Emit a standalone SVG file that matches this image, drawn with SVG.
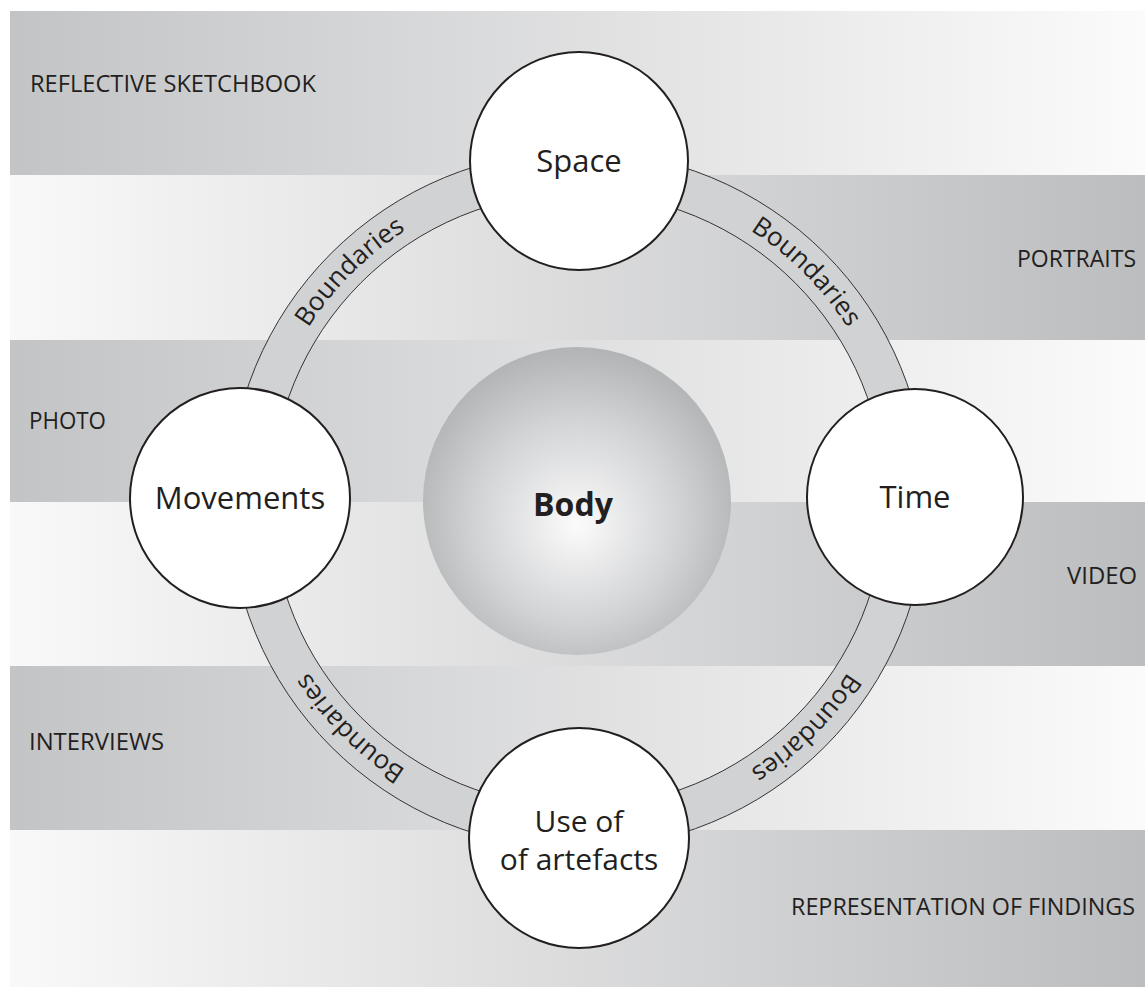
<svg xmlns="http://www.w3.org/2000/svg" xmlns:xlink="http://www.w3.org/1999/xlink" width="1145" height="990" viewBox="0 0 1145 990">
  <defs>
    <!-- band shading: light on the left, dark on the right -->
    <linearGradient id="bandLR" gradientUnits="userSpaceOnUse" x1="10" y1="0" x2="1145" y2="0">
      <stop offset="0" stop-color="#f9f9f9"/>
      <stop offset="1" stop-color="#bcbdbf"/>
    </linearGradient>
    <!-- band shading: dark on the left, light on the right -->
    <linearGradient id="bandRL" gradientUnits="userSpaceOnUse" x1="10" y1="0" x2="1145" y2="0">
      <stop offset="0" stop-color="#c3c4c6"/>
      <stop offset="1" stop-color="#fbfbfb"/>
    </linearGradient>
    <radialGradient id="bodyShade" cx="0.5" cy="0.55" r="0.55" fx="0.5" fy="0.58">
      <stop offset="0" stop-color="#fbfbfb"/>
      <stop offset="0.6" stop-color="#d2d3d5"/>
      <stop offset="1" stop-color="#b2b3b5"/>
    </radialGradient>
    <!-- clockwise circle used to lay the ring captions -->
    <path id="ringText" d="M 898 500 A 320 320 0 1 1 258 500 A 320 320 0 1 1 898 500"/>
    <style>
      .band-label { font-family: "Open Sans", "Liberation Sans", sans-serif; font-size: 23px; fill: #231f20; }
      .node { fill: #ffffff; stroke: #231f20; stroke-width: 2; }
      .node-label { font-family: "Open Sans", "Liberation Sans", sans-serif; font-size: 31px; fill: #231f20; text-anchor: middle; }
      .node-label-small { font-family: "Open Sans", "Liberation Sans", sans-serif; font-size: 30px; fill: #231f20; text-anchor: middle; }
      .ring { fill: #d1d2d4; stroke: #231f20; stroke-width: 0.9; fill-rule: evenodd; }
      .ring-label { font-family: "Open Sans", "Liberation Sans", sans-serif; font-size: 26px; fill: #231f20; text-anchor: middle; }
    </style>
  </defs>

  <rect x="0" y="0" width="1145" height="990" fill="#ffffff"/>

  <!-- horizontal method bands -->
  <g id="bands">
    <rect x="10" y="11" width="1135" height="164" fill="url(#bandRL)"/>
    <rect x="10" y="175" width="1135" height="165" fill="url(#bandLR)"/>
    <rect x="10" y="340" width="1135" height="162" fill="url(#bandRL)"/>
    <rect x="10" y="502" width="1135" height="164" fill="url(#bandLR)"/>
    <rect x="10" y="666" width="1135" height="164" fill="url(#bandRL)"/>
    <rect x="10" y="830" width="1135" height="157" fill="url(#bandLR)"/>
  </g>

  <g id="band-labels">
    <text class="band-label" x="30" y="92" textLength="286" lengthAdjust="spacingAndGlyphs">REFLECTIVE SKETCHBOOK</text>
    <text class="band-label" x="1136" y="267" text-anchor="end" textLength="119" lengthAdjust="spacingAndGlyphs">PORTRAITS</text>
    <text class="band-label" x="29" y="429" textLength="77" lengthAdjust="spacingAndGlyphs">PHOTO</text>
    <text class="band-label" x="1137" y="584" text-anchor="end" textLength="70" lengthAdjust="spacingAndGlyphs">VIDEO</text>
    <text class="band-label" x="29" y="750" textLength="135" lengthAdjust="spacingAndGlyphs">INTERVIEWS</text>
    <text class="band-label" x="1135" y="915" text-anchor="end" textLength="344" lengthAdjust="spacingAndGlyphs">REPRESENTATION OF FINDINGS</text>
  </g>

  <!-- connectors: the boundary ring joining the four dimensions -->
  <g id="connectors">
    <path class="ring" d="M 927 500 A 349 349 0 1 1 229 500 A 349 349 0 1 1 927 500 Z M 885 500 A 307 307 0 1 0 271 500 A 307 307 0 1 0 885 500 Z"/>
    <text class="ring-label"><textPath xlink:href="#ringText" href="#ringText" startOffset="12.5%">Boundaries</textPath></text>
    <text class="ring-label"><textPath xlink:href="#ringText" href="#ringText" startOffset="37.5%">Boundaries</textPath></text>
    <text class="ring-label"><textPath xlink:href="#ringText" href="#ringText" startOffset="62.5%">Boundaries</textPath></text>
    <text class="ring-label"><textPath xlink:href="#ringText" href="#ringText" startOffset="87.5%">Boundaries</textPath></text>
  </g>

  <g id="node-body">
    <circle cx="577" cy="501" r="154" fill="url(#bodyShade)"/>
    <text x="573" y="516" font-family="'Open Sans', 'Liberation Sans', sans-serif" font-size="32" font-weight="bold" fill="#231f20" text-anchor="middle">Body</text>
  </g>

  <g id="node-space">
    <circle class="node" cx="579" cy="161" r="109"/>
    <text class="node-label" x="579" y="172">Space</text>
  </g>

  <g id="node-movements">
    <circle class="node" cx="240" cy="498" r="110"/>
    <text class="node-label" x="240" y="509">Movements</text>
  </g>

  <g id="node-time">
    <circle class="node" cx="915" cy="497" r="108"/>
    <text class="node-label" x="915" y="508">Time</text>
  </g>

  <g id="node-artefacts">
    <circle class="node" cx="579" cy="838" r="110"/>
    <text class="node-label-small" x="579" y="832">Use of</text>
    <text class="node-label-small" x="579" y="870">of artefacts</text>
  </g>
</svg>
